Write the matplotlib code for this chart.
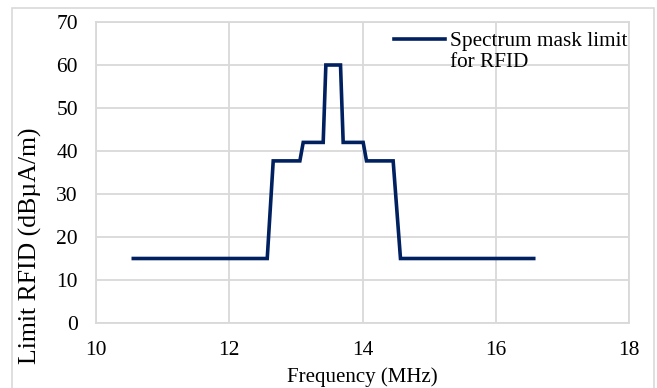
import matplotlib.pyplot as plt
from matplotlib.patches import Rectangle

freq = [10.56, 12.57, 12.66, 13.06, 13.11, 13.41, 13.45, 13.67, 13.71, 14.01, 14.06, 14.46, 14.57, 16.57]
limit = [15, 15, 37.7, 37.7, 42, 42, 60, 60, 42, 42, 37.7, 37.7, 15, 15]
xticks = [10, 12, 14, 16, 18]
yticks = [0, 10, 20, 30, 40, 50, 60, 70]

plt.rcParams['font.family'] = ['Liberation Serif', 'DejaVu Serif']
grey = '#d9d9d9'

fig = plt.figure(figsize=(6.57, 3.88), dpi=100)
W, H = 657, 388
ax = fig.add_axes([96 / W, 1 - 323 / H, (629 - 96) / W, (323 - 22) / H])

# outer frame like the Excel chart area
fig.patches.append(Rectangle((12 / W, -0.1), (654 - 12) / W, 1.1 - 8 / H,
                             transform=fig.transFigure, fill=False,
                             edgecolor=grey, linewidth=1.2))

ax.plot(freq, limit, color='#002060', linewidth=2.6,
        label='Spectrum mask limit\nfor RFID', solid_joinstyle='miter')

ax.set_xlim(10, 18)
ax.set_ylim(0, 70)
ax.set_xticks(xticks)
ax.set_yticks(yticks)
ax.grid(True, color=grey, linewidth=1.3)
ax.set_axisbelow(True)
for s in ax.spines.values():
    s.set_color(grey)
    s.set_linewidth(1.3)
ax.tick_params(length=0, labelsize=15.5, pad=13)
ax.tick_params(axis='y', pad=13)

ax.set_xlabel('Frequency (MHz)', fontsize=15, labelpad=5)
ax.set_ylabel('Limit RFID (dBµA/m)', fontsize=18.5)
ax.yaxis.set_label_coords(-0.102, 0.256)

leg = ax.legend(loc='upper right', bbox_to_anchor=(1.006, 0.982), frameon=False,
                fontsize=15.3, handlelength=2.4, handletextpad=0.25,
                borderaxespad=0.1, borderpad=0.1, labelspacing=0)
h = leg.legend_handles[0]
h.set_ydata([y + 9 for y in h.get_ydata()])

fig.savefig('out.png', dpi=100)
